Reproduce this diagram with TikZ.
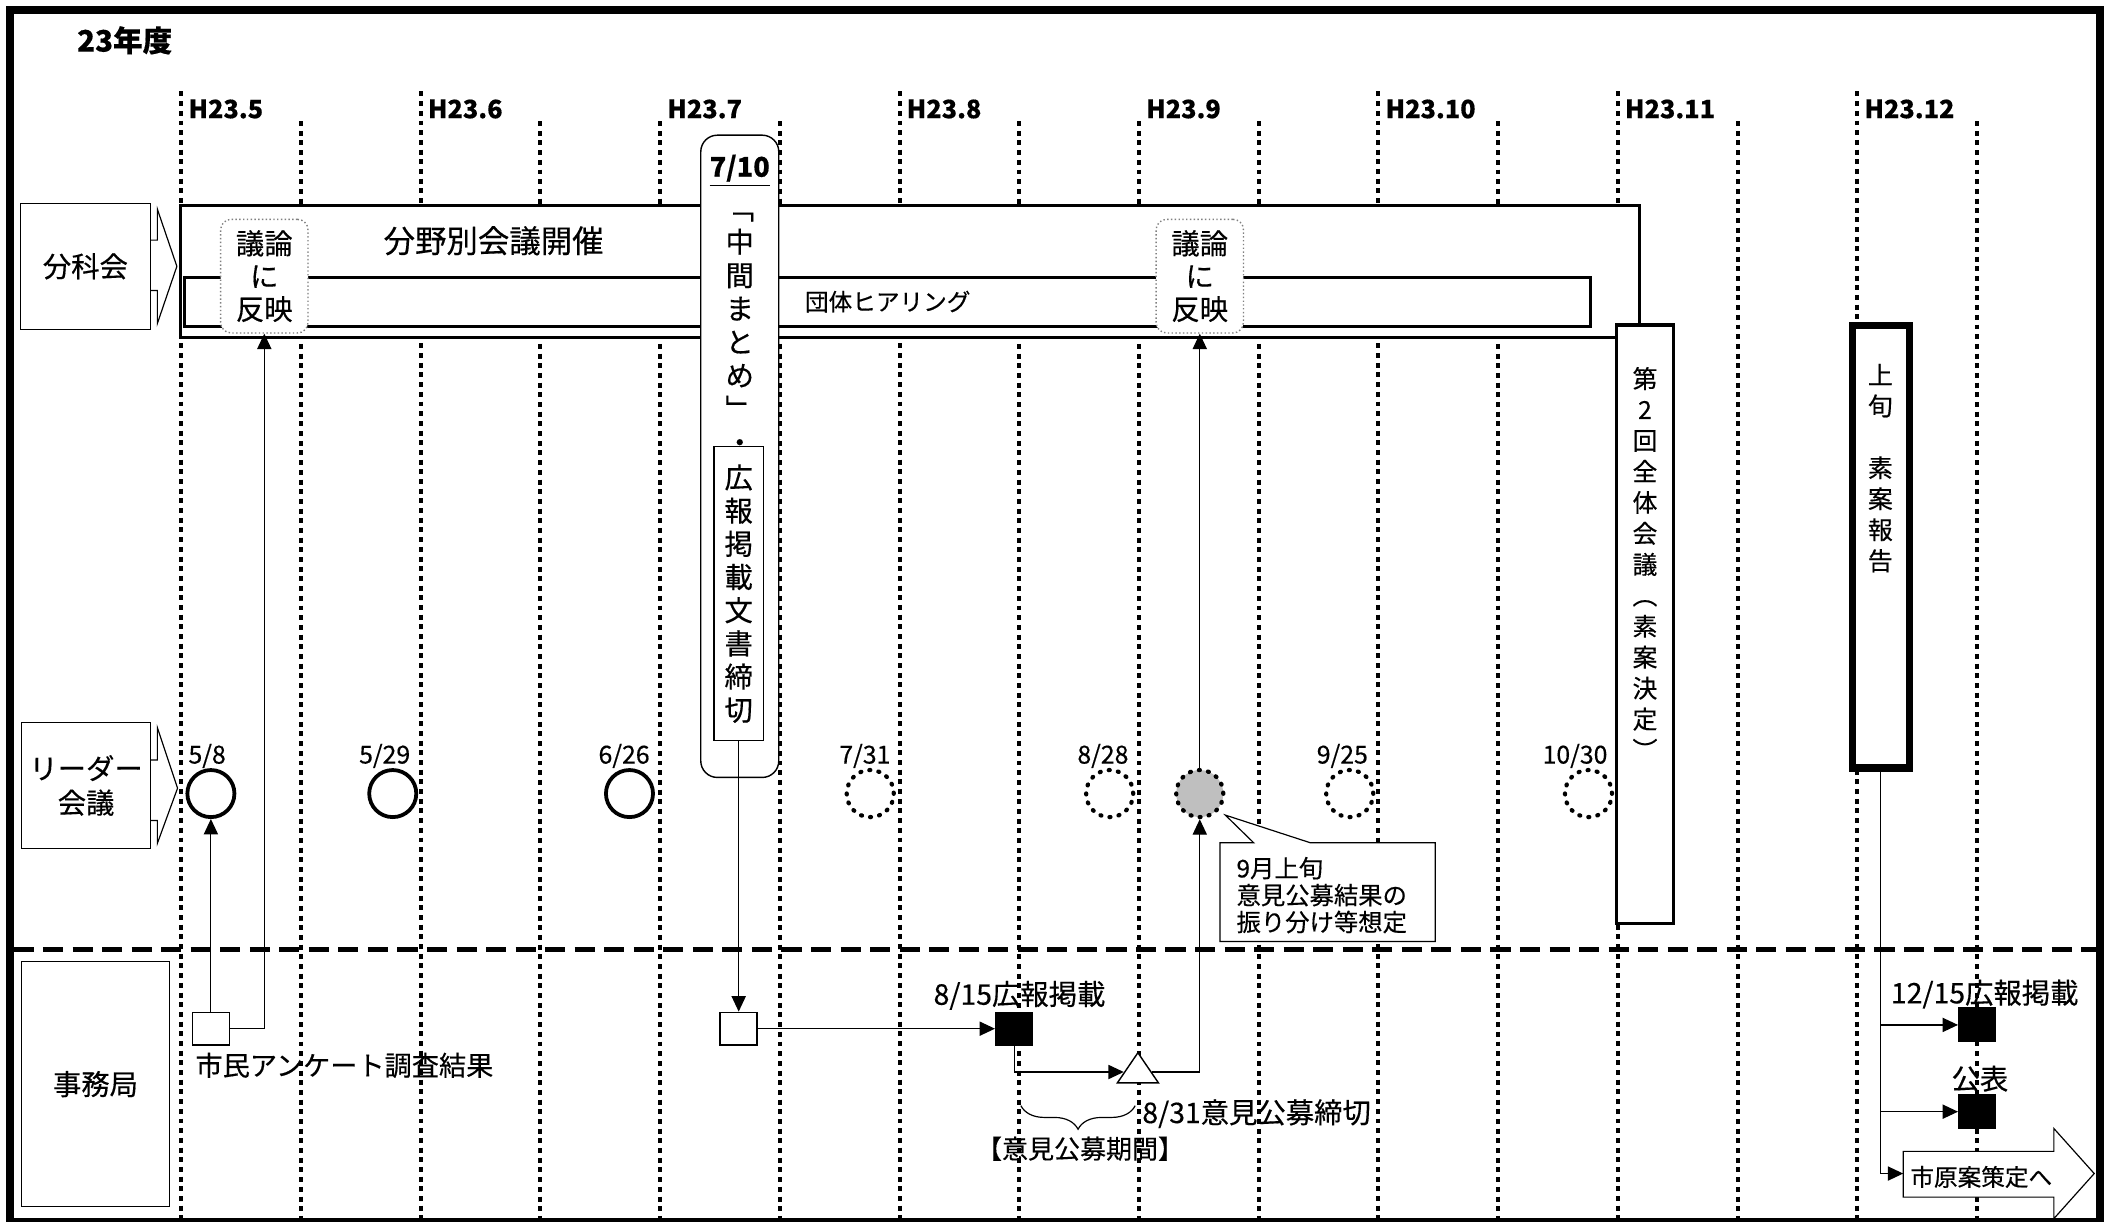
\documentclass[tikz,border=0pt]{standalone}
\usepackage{fontspec}
\setmainfont{Noto Sans CJK JP}[FakeBold=0.4]
\usetikzlibrary{arrows.meta,shapes.geometric,decorations.pathreplacing}
\newcommand{\px}{0.02cm}

\begin{document}
\begin{tikzpicture}[x=\px, y=-\px,
    vline/.style={line width=1.7pt, dash pattern=on 2.1pt off 2pt},
    sepline/.style={line width=2.2pt, dash pattern=on 8.5pt off 4pt},
    lbl/.style={draw, fill=white, line width=0.5pt, inner sep=0pt, align=center, font=\fontsize{12pt}{14.5pt}\selectfont},
    band/.style={draw, fill=white, line width=1.3pt, inner sep=0pt},
    giron/.style={draw=gray, densely dotted, fill=white, rounded corners=4.5pt, line width=0.6pt, inner sep=0pt, minimum width=65*\px, minimum height=84.5*\px, align=center, font=\fontsize{12pt}{13.9pt}\selectfont},
    meet/.style={circle, draw, fill=white, line width=1.6pt, minimum size=35*\px, inner sep=0pt},
    plan/.style={meet, line width=1.8pt, dash pattern=on 0.4pt off 3.5pt, line cap=round},
    date/.style={inner sep=0pt, font=\fontsize{10.5pt}{12pt}\selectfont},
    month/.style={anchor=west, inner sep=0pt, font=\bfseries\fontsize{10.7pt}{12pt}\selectfont},
    vtext/.style={align=center, inner sep=0pt},
    doc/.style={draw, fill=white, line width=0.6pt, minimum width=27.5*\px, minimum height=24.4*\px, inner sep=0pt},
    pub/.style={doc, fill=black},
    note/.style={inner sep=0pt, font=\fontsize{12pt}{14pt}\selectfont},
    arr/.style={-{Triangle[length=6.5pt, width=6pt]}, line width=0.5pt}]

    \useasboundingbox (0,0) rectangle (1568,908.5);

    % Month lines
    \draw[vline] (134.8,68) -- (134.8,908.5);
    \draw[vline] (312.8,68) -- (312.8,908.5);
    \draw[vline] (490.8,90) -- (490.8,908.5);
    \draw[vline] (668.8,68) -- (668.8,908.5);
    \draw[vline] (846.8,90) -- (846.8,908.5);
    \draw[vline] (1024.8,68) -- (1024.8,908.5);
    \draw[vline] (1202.8,68) -- (1202.8,908.5);
    \draw[vline] (1380.8,68) -- (1380.8,908.5);

    % Mid-month lines
    \draw[vline] (223.8,90) -- (223.8,908.5);
    \draw[vline] (401.8,90) -- (401.8,908.5);
    \draw[vline] (579.8,90) -- (579.8,908.5);
    \draw[vline] (757.8,90) -- (757.8,908.5);
    \draw[vline] (935.8,90) -- (935.8,908.5);
    \draw[vline] (1113.8,90) -- (1113.8,908.5);
    \draw[vline] (1291.8,90) -- (1291.8,908.5);
    \draw[vline] (1469.8,90) -- (1469.8,908.5);

    \draw[sepline] (10,706) -- (1559,706);

    % Title and months
    \node[anchor=west, inner sep=0pt, font=\bfseries\fontsize{12.5pt}{14pt}\selectfont] (title) at (57,30) {23年度};
    \node[month] (m-5) at (139.8,81) {H23.5};
    \node[month] (m-6) at (317.8,81) {H23.6};
    \node[month] (m-7) at (495.8,81) {H23.7};
    \node[month] (m-8) at (673.8,81) {H23.8};
    \node[month] (m-9) at (851.8,81) {H23.9};
    \node[month] (m-10) at (1029.8,81) {H23.10};
    \node[month] (m-11) at (1207.8,81) {H23.11};
    \node[month] (m-12) at (1385.8,81) {H23.12};

    % Row labels
    \draw[line width=0.5pt, fill=white] (110,178.5) -- (117,178.5) -- (117,155.5) -- (131.5,198) -- (117,240.5) -- (117,216) -- (110,216) -- cycle;
    \node[lbl, minimum width=97*\px, minimum height=94*\px] (lbl-bunka) at (63.5,198) {分科会};
    \draw[line width=0.5pt, fill=white] (110,565) -- (117,565) -- (117,541) -- (132,586) -- (117,627) -- (117,610) -- (110,610) -- cycle;
    \node[lbl, minimum width=96*\px, minimum height=94*\px] (lbl-leader) at (64,584) {リーダー\\会議};
    \node[lbl, minimum width=110*\px, minimum height=182*\px] (lbl-jimu) at (71,806) {事務局};

    % Bunkakai row
    \node[band, minimum width=1084.6*\px, minimum height=98*\px] (band-bunya) at (676.3,202) {};
    \node[band, minimum width=1045.2*\px, minimum height=36.5*\px, font=\fontsize{10pt}{12pt}\selectfont] (band-dantai) at (660,224.25) {団体ヒアリング};
    \node[note, font=\fontsize{13.3pt}{15pt}\selectfont] (t-bunya) at (367,179) {分野別会議開催};
    \node[giron] (giron-1) at (196.5,205.3) {議論\\に\\反映};
    \node[giron] (giron-2) at (892,205.3) {議論\\に\\反映};

    % Tall boxes
    \node[draw, fill=white, rounded corners=7pt, line width=0.6pt, minimum width=58*\px, minimum height=477.5*\px] (box-0710) at (550,339.25) {};
    \node[anchor=base, inner sep=0pt, font=\bfseries\fontsize{11.5pt}{13pt}\selectfont] (t-0710) at (550,131.4) {\underline{7/10}};
    \node[vtext, font=\fontsize{12pt}{14.14pt}\selectfont] (t-chukan) at (550,241.8) {\vphantom{中}﹁\\中\\間\\ま\\と\\め\\﹂\\\vphantom{中}・};
    \node[draw, fill=white, line width=0.6pt, minimum width=37*\px, minimum height=218.7*\px, inner sep=0pt, align=center, font=\fontsize{12pt}{14.05pt}\selectfont] (box-kouhou) at (549.2,441.35) {広\\報\\掲\\載\\文\\書\\締\\切};
    \node[draw, fill=white, line width=1.3pt, minimum width=42.4*\px, minimum height=444.8*\px] (box-zentai) at (1222.8,464) {};
    \node[vtext, font=\fontsize{10.5pt}{13.1pt}\selectfont] (t-zentai) at (1223,419.5) {第\\2\\回\\全\\体\\会\\議\\\vphantom{中}︵\\素\\案\\決\\定\\\vphantom{中}︶};
    \node[draw, fill=white, line width=3pt, minimum width=42.5*\px, minimum height=329*\px] (box-joujun) at (1398.25,406.5) {};
    \node[vtext, font=\fontsize{10.5pt}{13.1pt}\selectfont] (t-joujun) at (1398,348) {上\\旬\\[13.1pt]素\\案\\報\\告};

    % Leader meetings
    \node[meet] (meet-0508) at (156.8,590) {};
    \node[meet] (meet-0529) at (292,590) {};
    \node[meet] (meet-0626) at (468,590) {};
    \node[plan] (meet-0731) at (647,590) {};
    \node[plan] (meet-0828) at (825,590) {};
    \node[plan, fill=gray!50] (meet-sep) at (892,590) {};
    \node[plan] (meet-0925) at (1003.5,590) {};
    \node[plan] (meet-1030) at (1181,590) {};
    \node[date] (d-0508) at (154,562) {5/8};
    \node[date] (d-0529) at (286,562) {5/29};
    \node[date] (d-0626) at (464,562) {6/26};
    \node[date] (d-0731) at (643,562) {7/31};
    \node[date] (d-0828) at (820,562) {8/28};
    \node[date] (d-0925) at (998,562) {9/25};
    \node[date] (d-1030) at (1171,562) {10/30};

    % Note
    \draw[line width=0.5pt, fill=white] (907,626.5) -- (932,626.5) -- (911,606) -- (974,626.5) -- (1067,626.5) -- (1067,700) -- (907,700) -- cycle;
    \node[anchor=west, align=left, inner sep=0pt, font=\fontsize{10.3pt}{11.4pt}\selectfont] (memo) at (919,665.5) {9月上旬\\意見公募結果の\\振り分け等想定};

    % Secretariat row
    \node[doc] (doc-1) at (156.8,764.8) {};
    \node[doc] (doc-2) at (549.2,764.8) {};
    \node[pub] (pub-0815) at (754,764.8) {};
    \node[isosceles triangle, isosceles triangle stretches, shape border rotate=90, draw, fill=white, line width=0.6pt, minimum width=30.5*\px, minimum height=22.4*\px, inner sep=0pt] (tri-0831) at (846,797) {};
    \node[pub, minimum height=25*\px] (pub-1215) at (1470,762) {};
    \node[pub, minimum height=25*\px] (pub-kouhyou) at (1470,826.5) {};
    \draw[line width=0.5pt, fill=white] (1415,856) -- (1527,856) -- (1527,839) -- (1557,872.5) -- (1527,906) -- (1527,890) -- (1415,890) -- cycle;
    \coordinate (shian-tail) at (1415,872.5);

    \node[note, anchor=west, font=\fontsize{11.5pt}{13pt}\selectfont] (t-anketo) at (145,792) {市民アンケート調査結果};
    \node[note] (t-0815) at (758,740) {8/15広報掲載};
    \node[note, anchor=west] (t-0831) at (849,828) {8/31意見公募締切};
    \node[note, font=\fontsize{11pt}{13pt}\selectfont] (t-kikan) at (803,854) {【意見公募期間】};
    \node[note] (t-1215) at (1475.6,739) {12/15広報掲載};
    \node[note] (t-kouhyou) at (1472,802) {公表};
    \node[note, font=\fontsize{10pt}{12pt}\selectfont] (t-shian) at (1473,875) {市原案策定へ};
    \draw[line width=0.5pt, decorate, decoration={brace, mirror, amplitude=10pt}] (759,822) -- (844,822);

    % Connectors
    \draw[arr] (doc-1) -- (meet-0508);
    \draw[arr] (doc-1) -| (giron-1);
    \draw[arr] (box-kouhou) -- (doc-2);
    \draw[arr] (doc-2) -- (pub-0815);
    \draw[arr] (pub-0815) |- (tri-0831);
    \draw[arr] (tri-0831) -| (meet-sep);
    \draw[arr] (meet-sep) -- (giron-2);
    \draw[arr] (box-joujun.south) |- (shian-tail);
    \draw[arr] (box-joujun.south |- pub-1215) -- (pub-1215);
    \draw[arr] (box-joujun.south |- pub-kouhyou) -- (pub-kouhyou);

    % Frame
    \draw[line width=3.4pt] (7.5,7.5) rectangle (1561.3,908.5);
\end{tikzpicture}
\end{document}
